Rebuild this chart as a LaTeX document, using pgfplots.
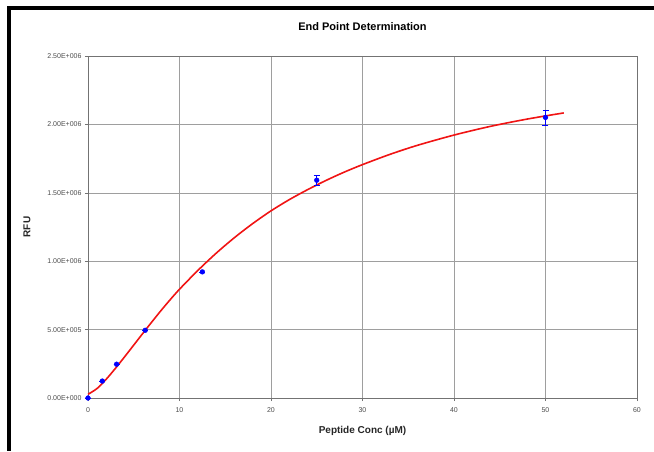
\documentclass[border=0pt]{standalone}
\usepackage{fontspec}
\setmainfont{Liberation Sans}
\usepackage{pgfplots}
\pgfplotsset{compat=1.18}
\definecolor{xlblue}{RGB}{0,0,255}
\definecolor{xlred}{RGB}{240,20,20}
\begin{document}
\begin{tikzpicture}[x=1pt,y=1pt]
\useasboundingbox (0,0) rectangle (654,451);
\fill[black] (7,0) rectangle (11,445);
\fill[black] (7,441) rectangle (654,445);
\begin{axis}[at={(88pt,53pt)}, anchor=south west, scale only axis,
  width=549pt, height=342pt,
  xmin=0, xmax=60, ymin=0, ymax=2.5e6,
  xtick={0,10,20,30,40,50,60},
  ytick={0,500000,1000000,1500000,2000000,2500000},
  yticklabels={0.00E+000,5.00E+005,1.00E+006,1.50E+006,2.00E+006,2.50E+006},
  scaled y ticks=false,
  grid=major, major grid style={black!38, line width=0.6pt},
  axis line style={black!55, line width=0.8pt},
  tick style={black!55, line width=0.6pt},
  tick align=outside, major tick length=3pt,
  xtick pos=lower, ytick pos=left,
  /pgf/number format/assume math mode=true,
  ticklabel style={font=\fontsize{7}{8}\selectfont, text=black!70},
  xticklabel style={yshift=-3pt},
  every axis title shift=0pt,
  title={End Point Determination},
  title style={font=\bfseries\fontsize{11}{12}\selectfont, at={(axis description cs:0.5,1.0848)}, anchor=center},
  xlabel={Peptide Conc (µM)},
  xlabel style={font=\bfseries\fontsize{10}{11}\selectfont, text=black!85, at={(axis description cs:0.5,-0.0965)}, anchor=center},
  ylabel={RFU},
  ylabel style={font=\bfseries\fontsize{10}{11}\selectfont, text=black!85, at={(axis description cs:-0.1111,0.5)}, anchor=center},
  clip=false,
]
\addplot[xlred, line width=1.6pt, smooth, no markers] coordinates {
 (0,27000) (1,70000) (2,138000) (3,217000) (4,301000) (5,387000) (6,473000)
 (7,558000) (8,641000) (9,720000) (10,795000) (12,932000) (14,1058000)
 (16,1172000) (18,1275000) (20,1368000) (22,1450000) (24,1523000)
 (26,1590000) (28,1651000) (30,1706000) (33,1781000) (36,1847000)
 (40,1922000) (44,1986000) (48,2039000) (52,2084000)
};
\addplot[xlblue, only marks, mark=*, mark size=2.4pt,
  error bars/.cd, y dir=both, y explicit,
  error bar style={xlblue, line width=0.6pt},
  error mark options={xlblue, rotate=90, mark size=3pt, line width=0.6pt}]
  table[x=x, y=y, y error=e] {
 x y e
 0 0 0
 1.5625 124000 0
 3.125 247000 0
 6.25 495000 0
 12.5 922000 0
 25 1592000 35000
 50 2051000 55000
};
\end{axis}
\end{tikzpicture}
\end{document}
